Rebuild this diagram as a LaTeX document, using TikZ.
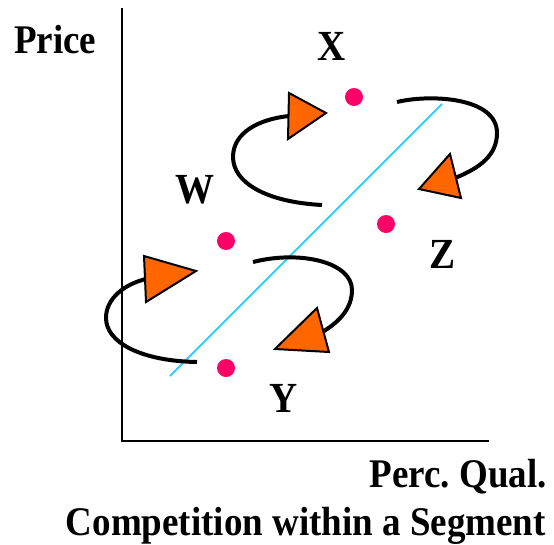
\documentclass[tikz,border=0pt]{standalone}
\usepackage{fontspec}
\usepackage{graphicx}
\setmainfont{Liberation Serif}
\newcommand{\tallT}[1]{\scalebox{1}[1.1]{#1}}
\definecolor{dotred}{HTML}{FF0066}
\definecolor{tri}{HTML}{FF6600}
\definecolor{diag}{HTML}{33CCFF}
\begin{document}
\begin{tikzpicture}[x=1pt,y=-1pt,
  lbl/.style={inner sep=0pt,font=\fontsize{39}{42}\selectfont\bfseries},
  txt/.style={inner sep=0pt,font=\fontsize{37}{40}\selectfont\bfseries},
  dot/.style={circle,fill=dotred,minimum size=18pt,inner sep=0pt},
  axis/.style={line width=2.5pt},
  loop/.style={line width=4pt},
  head/.style={fill=tri,draw=black,line width=2pt,line join=miter},
  diagline/.style={draw=diag,line width=2pt}]
\useasboundingbox (0,0) rectangle (554,544);
% axes
\coordinate (top) at (122,8);
\coordinate (orig) at (122,441);
\coordinate (right) at (489,441);
\draw[axis] (top) -- (orig) -- (right);
% diagonal
\coordinate (d1) at (170,376);
\coordinate (d2) at (442,104);
\draw[diagline] (d1) -- (d2);
% dots
\node[dot] (X) at (354,97) {};
\node[dot] (W) at (226,241) {};
\node[dot] (Z) at (386,224) {};
\node[dot] (Y) at (226,368) {};
% labels
\node[txt,anchor=base west] (price) at (14,53) {\tallT{Price}};
\node[lbl,anchor=base] (lX) at (332,60) {\tallT{X}};
\node[lbl,anchor=base] (lW) at (195,203) {\tallT{W}};
\node[lbl,anchor=base] (lZ) at (443,268) {\tallT{Z}};
\node[lbl,anchor=base] (lY) at (284,412) {\tallT{Y}};
\node[txt,anchor=base east] (pq) at (547,487) {\tallT{Perc.\ Qual.}};
\node[txt,anchor=base east] (cap) at (546,535) {\tallT{Competition within a Segment}};
% loop 1 (W -> X)
\coordinate (a1) at (322,205);
\coordinate (b1) at (233,157);
\coordinate (c1) at (289,116);
\draw[loop] (a1) .. controls (265,202) and (233,182) .. (b1) .. controls (233,132) and (260,119) .. (c1);
\coordinate (t1a) at (289,93);
\coordinate (t1b) at (326,113);
\coordinate (t1c) at (288,139);
\draw[head] (t1a) -- (t1b) -- (t1c) -- cycle;
% loop 2 (X -> Z)
\coordinate (a2) at (397,102);
\coordinate (b2) at (497,133);
\coordinate (c2) at (455,178);
\draw[loop] (a2) .. controls (430,94) and (497,97) .. (b2) .. controls (497,155) and (480,168) .. (c2);
\coordinate (t2a) at (450,154);
\coordinate (t2b) at (461,198);
\coordinate (t2c) at (419,189);
\draw[head] (t2a) -- (t2b) -- (t2c) -- cycle;
% loop 3 (Y -> W)
\coordinate (a3) at (197,362);
\coordinate (b3) at (106,318);
\coordinate (c3) at (146,279);
\draw[loop] (a3) .. controls (140,361) and (106,342) .. (b3) .. controls (106,298) and (125,284) .. (c3);
\coordinate (t3a) at (144,256);
\coordinate (t3b) at (196,271);
\coordinate (t3c) at (146,302);
\draw[head] (t3a) -- (t3b) -- (t3c) -- cycle;
% loop 4 (W -> Y)
\coordinate (a4) at (253,262);
\coordinate (b4) at (352,290);
\coordinate (c4) at (324,331);
\draw[loop] (a4) .. controls (300,250) and (352,262) .. (b4) .. controls (352,308) and (340,321) .. (c4);
\coordinate (t4a) at (317,308);
\coordinate (t4b) at (329,352);
\coordinate (t4c) at (275,349);
\draw[head] (t4a) -- (t4b) -- (t4c) -- cycle;
\end{tikzpicture}
\end{document}
